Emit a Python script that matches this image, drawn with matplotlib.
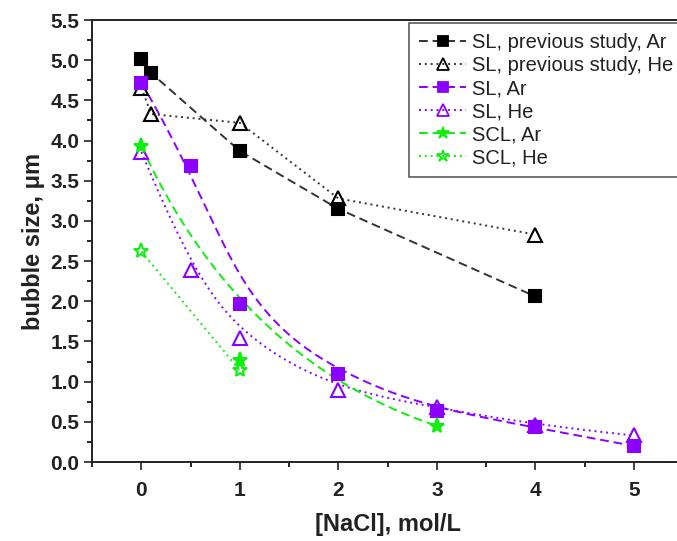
import numpy as np
import matplotlib
matplotlib.use("Agg")
import matplotlib.pyplot as plt
from matplotlib.ticker import MultipleLocator

plt.rcParams['font.family'] = ['Liberation Sans', 'DejaVu Sans']

# previous study (straight connections)
prev_ar_x = [0, 0.1, 1, 2, 4]
prev_ar_y = [5.01, 4.84, 3.87, 3.15, 2.06]
prev_he_x = [0, 0.1, 1, 2, 4]
prev_he_y = [4.66, 4.33, 4.22, 3.28, 2.83]

# this study (B-spline connections)
sl_ar_x = [0, 0.5, 1, 2, 3, 4, 5]
sl_ar_y = [4.72, 3.68, 1.97, 1.10, 0.64, 0.43, 0.20]
sl_he_x = [0, 0.5, 1, 2, 3, 4, 5]
sl_he_y = [3.86, 2.39, 1.54, 0.90, 0.68, 0.46, 0.33]
scl_ar_x = [0, 1, 3]
scl_ar_y = [3.93, 1.27, 0.45]
scl_he_x = [0, 1]
scl_he_y = [2.62, 1.14]

labels = ["SL, previous study, Ar", "SL, previous study, He",
          "SL, Ar", "SL, He", "SCL, Ar", "SCL, He"]

purple = '#8c00ff'
green = '#10ee10'
dark = '#333333'


def bspline(xs, ys, deg=3, num=300):
    # clamped B-spline using the data points as control points
    pts = np.column_stack([xs, ys]).astype(float)
    n = len(pts)
    deg = min(deg, n - 1)
    knots = np.concatenate([np.zeros(deg), np.linspace(0, 1, n - deg + 1), np.ones(deg)])
    u = np.linspace(0, 1, num)
    B = np.zeros((num, len(knots) - 1))
    for i in range(len(knots) - 1):
        B[:, i] = (u >= knots[i]) & (u < knots[i + 1])
    B[u == 1, n - 1] = 1
    for p in range(1, deg + 1):
        nb = np.zeros((num, len(knots) - 1 - p))
        for i in range(len(knots) - 1 - p):
            d1 = knots[i + p] - knots[i]
            d2 = knots[i + p + 1] - knots[i + 1]
            left = (u - knots[i]) / d1 * B[:, i] if d1 > 0 else 0
            right = (knots[i + p + 1] - u) / d2 * B[:, i + 1] if d2 > 0 else 0
            nb[:, i] = left + right
        B = nb
    curve = B @ pts
    return curve[:, 0], curve[:, 1]


fig = plt.figure(figsize=(6.77, 5.41), dpi=100)
ax = fig.add_axes([0.136, 0.146, 0.873, 0.817])

dash = (0, (4.5, 2.5))
dot = (0, (1, 2))
lw = 1.4

series = [
    (prev_ar_x, prev_ar_y, dark, dash, 's', 'black', False),
    (prev_he_x, prev_he_y, dark, dot, '^', 'none', False),
    (sl_ar_x, sl_ar_y, purple, dash, 's', purple, True),
    (sl_he_x, sl_he_y, purple, dot, '^', 'none', True),
    (scl_ar_x, scl_ar_y, green, dash, '*', green, True),
    (scl_he_x, scl_he_y, green, dot, '*', 'none', True),
]

for (xs, ys, col, ls, mk, fc, smooth), lab in zip(series, labels):
    if smooth:
        cx, cy = bspline(xs, ys)
    else:
        cx, cy = xs, ys
    ax.plot(cx, cy, color=col, linestyle=ls, linewidth=lw, zorder=2)
    mec = 'black' if col == dark else col
    ms = 8 if mk == 's' else (10 if mk == '^' else 11)
    ax.plot(xs, ys, linestyle='none', marker=mk, markersize=ms,
            markerfacecolor=fc, markeredgecolor=mec, markeredgewidth=1.5, zorder=3)
    # legend proxy
    ax.plot([], [], color=col, linestyle=ls, linewidth=lw, marker=mk,
            markersize=ms * 0.85, markerfacecolor=fc, markeredgecolor=mec,
            markeredgewidth=1.3, label=lab)

ax.set_xlim(-0.5, 5.5)
ax.set_ylim(0, 5.5)
ax.xaxis.set_major_locator(MultipleLocator(1))
ax.xaxis.set_minor_locator(MultipleLocator(0.5))
ax.yaxis.set_major_locator(MultipleLocator(0.5))
ax.yaxis.set_minor_locator(MultipleLocator(0.25))
ax.yaxis.set_major_formatter(plt.FormatStrFormatter('%.1f'))
ax.tick_params(which='major', direction='out', length=6, width=1.2, labelsize=15, colors='#222222')
ax.tick_params(axis='x', which='major', pad=8)
ax.tick_params(axis='y', which='major', pad=3)
ax.tick_params(which='minor', direction='out', length=3.5, width=1.2)
for lab in ax.get_xticklabels() + ax.get_yticklabels():
    lab.set_fontweight('bold')
for sp in ax.spines.values():
    sp.set_linewidth(1.4)
    sp.set_color('#222222')

ax.set_xlabel("[NaCl], mol/L", fontsize=17, fontweight='bold', labelpad=9, color='#222222')
ax.set_ylabel("bubble size, μm", fontsize=17, fontweight='bold', labelpad=4, color='#222222')

handles, labs = ax.get_legend_handles_labels()
handles = handles[-6:]
leg = ax.legend(handles, labs[-6:], loc='upper right', bbox_to_anchor=(1.0, 0.993),
                fontsize=14.5, frameon=True, fancybox=False, handlelength=2.3,
                handletextpad=0.3, labelspacing=0.2, borderpad=0.5, borderaxespad=0.0)
leg.get_frame().set_edgecolor('#222222')
leg.get_frame().set_linewidth(1.1)
for t in leg.get_texts():
    t.set_color('#222222')

fig.savefig("out.png", dpi=100)
